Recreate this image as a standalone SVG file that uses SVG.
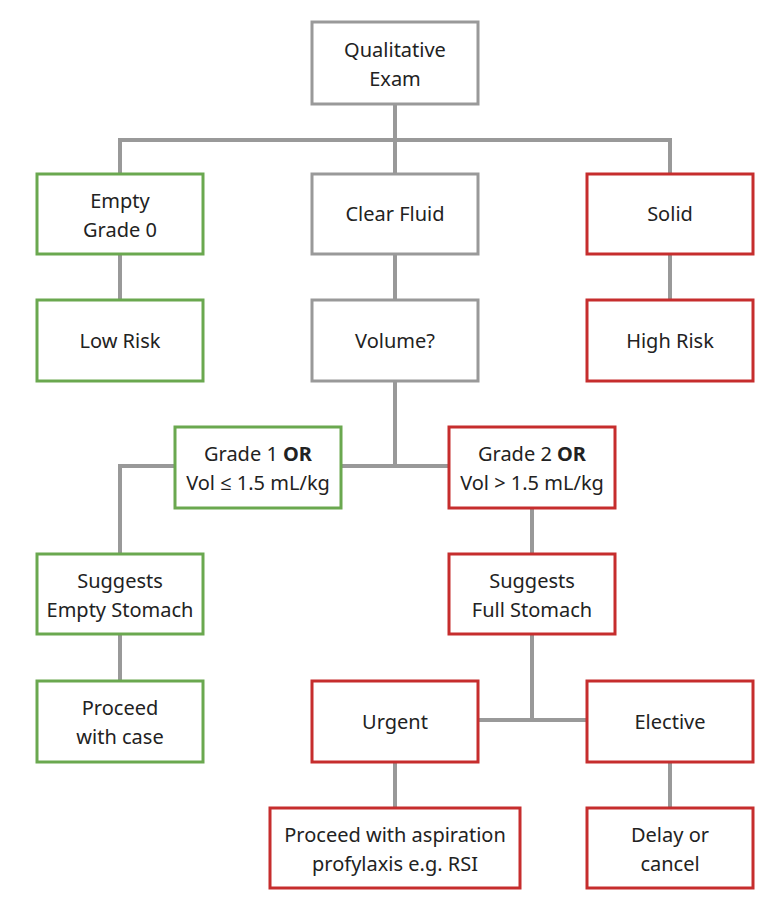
<svg xmlns="http://www.w3.org/2000/svg" width="780" height="906" viewBox="0 0 780 906">
<style>
rect{fill:#fff;stroke-width:3}
.g{stroke:#6aa84f}.r{stroke:#c62d2d}.n{stroke:#999}
text{font-family:"Noto Sans","Open Sans",sans-serif;font-size:20px;fill:#222;text-anchor:middle}
#conn path{fill:none;stroke:#999;stroke-width:4}
</style>
<rect width="780" height="906" fill="#fff" style="stroke:none"/>
<g id="conn">
<path d="M395 104V140M120 174V140H670V174M395 140V174"/>
<path d="M120 254V300M395 254V300M670 254V300"/>
<path d="M395 381V466M341 466H449"/>
<path d="M175 466H120V554M120 634V681"/>
<path d="M532 508V554M532 634V720M478 720H587"/>
<path d="M395 762V808M670 762V808"/>
</g>
<g id="qual"><rect class="n" x="312" y="22" width="166" height="82"/><text x="395" y="57">Qualitative</text><text x="395" y="86">Exam</text></g>
<g id="empty"><rect class="g" x="37" y="174" width="166" height="80"/><text x="120" y="208">Empty</text><text x="120" y="237">Grade 0</text></g>
<g id="clear"><rect class="n" x="312" y="174" width="166" height="80"/><text x="395" y="221">Clear Fluid</text></g>
<g id="solid"><rect class="r" x="587" y="174" width="166" height="80"/><text x="670" y="221">Solid</text></g>
<g id="low"><rect class="g" x="37" y="300" width="166" height="81"/><text x="120" y="348">Low Risk</text></g>
<g id="volume"><rect class="n" x="312" y="300" width="166" height="81"/><text x="395" y="348">Volume?</text></g>
<g id="high"><rect class="r" x="587" y="300" width="166" height="81"/><text x="670" y="348">High Risk</text></g>
<g id="grade1"><rect class="g" x="175" y="427" width="166" height="81"/><text x="258" y="461">Grade 1 <tspan font-weight="bold">OR</tspan></text><text x="258" y="490">Vol ≤ 1.5 mL/kg</text></g>
<g id="grade2"><rect class="r" x="449" y="427" width="166" height="81"/><text x="532" y="461">Grade 2 <tspan font-weight="bold">OR</tspan></text><text x="532" y="490">Vol &gt; 1.5 mL/kg</text></g>
<g id="emptyst"><rect class="g" x="37" y="554" width="166" height="80"/><text x="120" y="588">Suggests</text><text x="120" y="617">Empty Stomach</text></g>
<g id="fullst"><rect class="r" x="449" y="554" width="166" height="80"/><text x="532" y="588">Suggests</text><text x="532" y="617">Full Stomach</text></g>
<g id="proceed"><rect class="g" x="37" y="681" width="166" height="81"/><text x="120" y="715">Proceed</text><text x="120" y="744">with case</text></g>
<g id="urgent"><rect class="r" x="312" y="681" width="166" height="81"/><text x="395" y="729">Urgent</text></g>
<g id="elective"><rect class="r" x="587" y="681" width="166" height="81"/><text x="670" y="729">Elective</text></g>
<g id="aspir"><rect class="r" x="270" y="808" width="250" height="80"/><text x="395" y="842">Proceed with aspiration</text><text x="395" y="871">profylaxis e.g. RSI</text></g>
<g id="delay"><rect class="r" x="587" y="808" width="166" height="80"/><text x="670" y="842">Delay or</text><text x="670" y="871">cancel</text></g>
</svg>
